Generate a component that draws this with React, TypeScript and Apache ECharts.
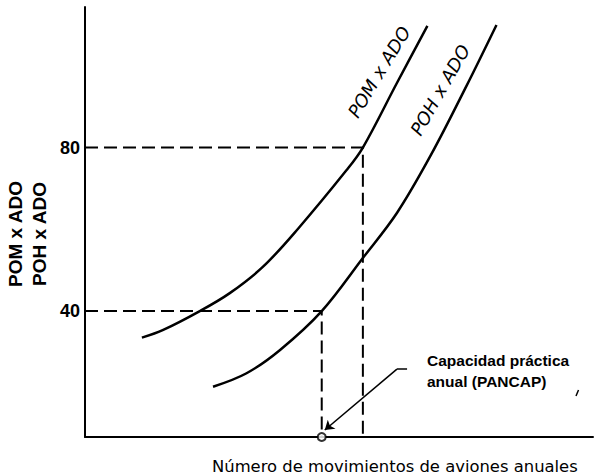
import React, { useEffect, useRef } from "react";
import * as echarts from "echarts";

// Axis extents (arbitrary units for annual movements on x)
const xMin = 0;
const xMax = 100;
const yMin = 9.2;
const yMax = 114.4;
const yTickLabels = [40, 80];

// POM x ADO curve
const pomX = [11.2, 15.4, 22.6, 28.5, 35.0, 41.9, 51.5, 54.7, 61.4, 67.4];
const pomY = [33.5, 35.4, 40.0, 44.4, 50.8, 60.1, 74.5, 80.0, 95.8, 109.8];

// POH x ADO curve
const pohX = [25.2, 31.8, 38.4, 46.6, 54.7, 61.4, 68.1, 75.1, 81.0];
const pohY = [21.5, 24.8, 30.5, 40.0, 53.0, 64.0, 78.2, 95.1, 110.0];

// Annotation leader (elbow, start, arrow tip)
const leaderX = [63.4, 61.4, 47.2];
const leaderY = [25.8, 25.8, 10.9];

const pair = (xs: number[], ys: number[]) => xs.map((x, i) => [x, ys[i]]);

export default function App() {
  const ref = useRef<HTMLDivElement>(null);
  useEffect(() => {
    if (!ref.current) return;
    const chart = echarts.init(ref.current, null, { renderer: "svg" });
    const x80 = pomX[pomY.indexOf(80)];
    const x40 = pohX[pohY.indexOf(40)];
    const dash = [13, 6];
    const sans = "Liberation Sans";
    chart.setOption({
      animation: false,
      backgroundColor: "#ffffff",
      grid: { left: 85, right: 1, top: 7, bottom: 38 },
      xAxis: {
        type: "value",
        min: xMin,
        max: xMax,
        axisLine: { show: true, lineStyle: { color: "#000", width: 2 } },
        axisTick: { show: false },
        axisLabel: { show: false },
        splitLine: { show: false },
      },
      yAxis: {
        type: "value",
        min: yMin,
        max: yMax,
        axisLine: { show: true, lineStyle: { color: "#000", width: 2 } },
        axisTick: { show: false },
        axisLabel: {
          customValues: yTickLabels,
          color: "#000",
          fontSize: 18,
          fontWeight: "bold",
          fontFamily: sans,
          margin: 5,
        },
        splitLine: { show: false },
      },
      series: [
        {
          type: "line",
          name: "POM x ADO",
          data: pair(pomX, pomY),
          smooth: 0.35,
          showSymbol: false,
          lineStyle: { color: "#000", width: 2.5 },
        },
        {
          type: "line",
          name: "POH x ADO",
          data: pair(pohX, pohY),
          smooth: 0.35,
          showSymbol: false,
          lineStyle: { color: "#000", width: 2.5 },
        },
        {
          type: "line",
          name: "guide80",
          data: [[xMin, 80], [x80, 80], [x80, yMin]],
          showSymbol: false,
          lineStyle: { color: "#000", width: 2, type: dash },
        },
        {
          type: "line",
          name: "guide40",
          data: [[xMin, 40], [x40, 40], [x40, yMin]],
          showSymbol: false,
          lineStyle: { color: "#000", width: 2, type: dash },
        },
        {
          type: "lines",
          coordinateSystem: "cartesian2d",
          symbolSize: 9,
          lineStyle: { color: "#000", width: 1.5, opacity: 1 },
          data: [
            {
              coords: [[leaderX[0], leaderY[0]], [leaderX[1], leaderY[1]]],
              symbol: ["none", "none"],
            },
            {
              coords: [[leaderX[1], leaderY[1]], [leaderX[2], leaderY[2]]],
              symbol: ["none", "arrow"],
            },
          ],
          z: 3,
        },
        {
          type: "scatter",
          name: "PANCAP",
          data: [[x40, yMin]],
          symbol: "circle",
          symbolSize: 8,
          clip: false,
          itemStyle: { color: "#fff", borderColor: "#000", borderWidth: 2 },
          z: 5,
        },
      ],
      graphic: [
        {
          type: "text",
          x: 27,
          y: 234,
          rotation: Math.PI / 2,
          style: {
            text: "POM x ADO\nPOH x ADO",
            fill: "#000",
            font: `bold 19px '${sans}'`,
            lineHeight: 24,
            align: "center",
            verticalAlign: "middle",
          },
        },
        {
          type: "text",
          x: 379,
          y: 72,
          rotation: (58.8 * Math.PI) / 180,
          style: {
            text: "POM x ADO",
            fill: "#000",
            font: "italic 18px 'DejaVu Sans'",
            align: "center",
            verticalAlign: "middle",
          },
        },
        {
          type: "text",
          x: 440,
          y: 90,
          rotation: (60.3 * Math.PI) / 180,
          style: {
            text: "POH x ADO",
            fill: "#000",
            font: "italic 18px 'DejaVu Sans'",
            align: "center",
            verticalAlign: "middle",
          },
        },
        {
          type: "text",
          x: 427,
          y: 371,
          style: {
            text: "Capacidad práctica\nanual (PANCAP)",
            fill: "#000",
            font: `bold 15.5px '${sans}'`,
            lineHeight: 21,
            align: "left",
            verticalAlign: "middle",
          },
        },
        {
          type: "text",
          x: 212,
          y: 466,
          style: {
            text: "Número de movimientos de aviones anuales",
            fill: "#000",
            font: "16.4px 'DejaVu Sans'",
            align: "left",
            verticalAlign: "middle",
          },
        },
        {
          type: "line",
          shape: { x1: 576, y1: 396, x2: 578.5, y2: 390 },
          style: { stroke: "#000", lineWidth: 1.5 },
        },
      ],
    });
    return () => chart.dispose();
  }, []);
  return <div ref={ref} style={{ width: 594, height: 475, position: "fixed", left: 0, top: 0 }} />;
}
